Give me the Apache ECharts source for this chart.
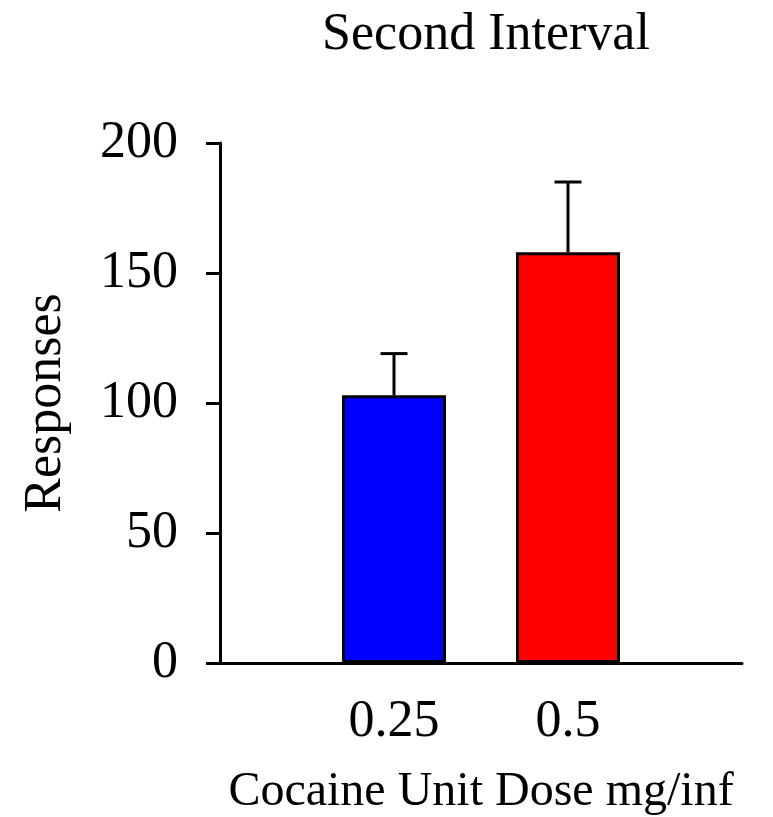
<!DOCTYPE html>
<html>
<head>
<meta charset="utf-8">
<script src="https://cdn.jsdelivr.net/npm/echarts@6/dist/echarts.min.js"></script>
<style>
  html, body { margin: 0; padding: 0; background: #fff; }
  #chart { width: 773px; height: 817px; }
</style>
</head>
<body>
<div id="chart"></div>
<script>
// Dose categories (blank slots pad each end of the axis)
const categories = ['', '0.25', '0.5', ''];
// Mean responses per dose
const meanResponses = ['-', 103, 158, '-'];
// Upper end of the error bar (mean + SEM)
const errorUpper = [null, 119, 185, null];
const barColors = ['#0000ff', '#0000ff', '#ff0000', '#ff0000'];
const yTicks = { min: 0, max: 200, interval: 50 };

const FONT = '"Liberation Serif", "Times New Roman", serif';

const chart = echarts.init(document.getElementById('chart'), null, { renderer: 'canvas' });

const errorData = [];
errorUpper.forEach((hi, i) => {
  if (hi !== null) errorData.push([i, meanResponses[i], hi]);
});

chart.setOption({
  animation: false,
  backgroundColor: '#ffffff',
  title: {
    text: 'Second Interval',
    left: 481,
    textAlign: 'center',
    top: 4,
    textStyle: { fontFamily: FONT, fontSize: 52, fontWeight: 'normal', color: '#000' }
  },
  grid: { left: 220, right: 31, top: 143, bottom: 154, outerBoundsMode: 'none', containLabel: false },
  xAxis: {
    type: 'category',
    data: categories,
    boundaryGap: false,
    name: 'Cocaine Unit Dose mg/inf',
    nameLocation: 'middle',
    nameGap: 105,
    nameTextStyle: { fontFamily: FONT, fontSize: 48, color: '#000' },
    axisLine: { lineStyle: { color: '#000', width: 3 } },
    axisTick: { show: false },
    axisLabel: { fontFamily: FONT, fontSize: 52, color: '#000', margin: 33, interval: 0 },
    splitLine: { show: false }
  },
  yAxis: {
    type: 'value',
    min: yTicks.min,
    max: yTicks.max,
    interval: yTicks.interval,
    name: 'Responses',
    nameLocation: 'middle',
    nameGap: 148,
    nameTextStyle: { fontFamily: FONT, fontSize: 52, color: '#000' },
    axisLine: { show: true, lineStyle: { color: '#000', width: 3 } },
    axisTick: { show: true, length: 14, lineStyle: { color: '#000', width: 3 } },
    axisLabel: { fontFamily: FONT, fontSize: 52, color: '#000', margin: 42 },
    splitLine: { show: false }
  },
  series: [
    {
      type: 'bar',
      data: meanResponses.map((v, i) => ({
        value: v,
        itemStyle: { color: barColors[i] }
      })),
      barWidth: 104,
      itemStyle: { borderColor: '#000', borderWidth: 3 },
      z: 2
    },
    {
      type: 'custom',
      data: errorData,
      z: 3,
      renderItem: function (params, api) {
        const x = api.value(0);
        const base = api.coord([x, api.value(1)]);
        const top = api.coord([x, api.value(2)]);
        const half = 13.5;
        const style = { stroke: '#000', lineWidth: 3 };
        return {
          type: 'group',
          children: [
            { type: 'line', shape: { x1: base[0], y1: base[1], x2: top[0], y2: top[1] }, style: style },
            { type: 'line', shape: { x1: top[0] - half, y1: top[1], x2: top[0] + half, y2: top[1] }, style: style }
          ]
        };
      }
    }
  ]
});
</script>
</body>
</html>
